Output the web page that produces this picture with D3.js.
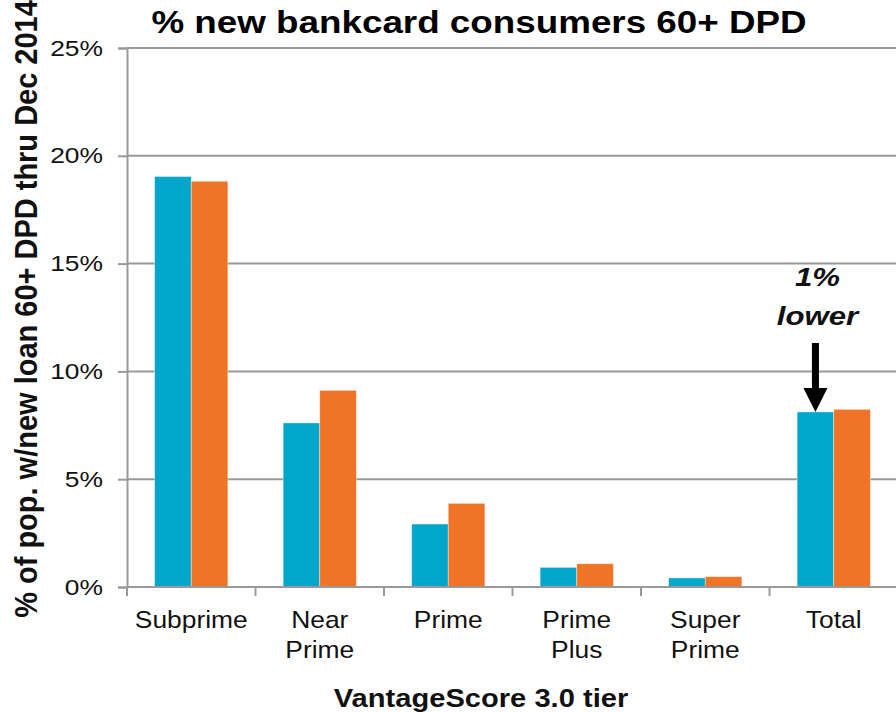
<!DOCTYPE html>
<html>
<head>
<meta charset="utf-8">
<script src="https://cdn.jsdelivr.net/npm/d3@7"></script>
<style>
  html, body { margin: 0; padding: 0; background: #fff; }
  svg { display: block; font-family: "Liberation Sans", Arial, sans-serif; }
</style>
</head>
<body>
<svg id="chart" width="896" height="713"></svg>
<script>
// VantageScore 3.0 tiers (multi-line labels split on "\n")
const categories = ["Subprime", "Near\nPrime", "Prime", "Prime\nPlus", "Super\nPrime", "Total"];
// Share of new bankcard consumers 60+ DPD, two cohorts (percent)
const seriesA = [19.04, 7.61, 2.92, 0.91, 0.42, 8.12];
const seriesB = [18.82, 9.12, 3.88, 1.08, 0.48, 8.24];
const yTicks = [0, 5, 10, 15, 20, 25];
const seriesColors = ["#01a6ca", "#f07326"];

(function drawChart() {
  const svg = d3.select("#chart");
  const plotLeft = 127, plotRight = 898, plotTop = 48, plotBottom = 587;
  const grid = "#999";

  // Text in this chart is set slightly wide; sx widens glyphs horizontally
  function wideText(x, y, sx, size, weight, str, opts = {}) {
    const t = svg.append("text")
      .attr("transform", `translate(${x},${y}) scale(${sx},1)`)
      .attr("text-anchor", opts.anchor || "middle")
      .attr("font-size", size).attr("font-weight", weight)
      .attr("fill", opts.fill || "#111")
      .text(str);
    if (opts.italic) t.attr("font-style", "italic");
    return t;
  }

  const x0 = d3.scaleBand().domain(categories).range([plotLeft, plotRight])
    .paddingInner(0.43).paddingOuter(0.215);
  const x1 = d3.scaleBand().domain([0, 1]).range([0, x0.bandwidth()]);
  const y = d3.scaleLinear().domain([0, 25]).range([plotBottom, plotTop]);

  // Horizontal gridlines
  svg.append("g").selectAll("line").data(yTicks.filter(d => d > 0)).join("line")
    .attr("x1", plotLeft).attr("x2", 896)
    .attr("y1", d => y(d)).attr("y2", d => y(d))
    .attr("stroke", grid).attr("stroke-width", 2);

  // Bars
  const groups = svg.append("g").selectAll("g").data(categories).join("g")
    .attr("transform", d => `translate(${x0(d)},0)`);
  [seriesA, seriesB].forEach((vals, s) => {
    groups.append("rect")
      .attr("x", x1(s))
      .attr("width", x1.bandwidth())
      .attr("y", (d, i) => y(vals[i]))
      .attr("height", (d, i) => y(0) - y(vals[i]))
      .attr("fill", seriesColors[s])
      .attr("stroke", "#fff").attr("stroke-opacity", 0.5).attr("stroke-width", 0.8);
  });

  // Y axis
  const tickSx = 1.2;
  const yAxis = svg.append("g").attr("transform", `translate(${plotLeft},0)`)
    .call(d3.axisLeft(y).tickValues(yTicks).tickFormat(d => d + "%").tickSize(9));
  yAxis.select(".domain").attr("stroke", grid).attr("stroke-width", 2);
  yAxis.selectAll(".tick line").attr("stroke", grid).attr("stroke-width", 2);
  yAxis.selectAll(".tick text")
    .attr("font-size", 22).attr("fill", "#111")
    .attr("font-family", "Liberation Sans, Arial, sans-serif")
    .attr("x", -24 / tickSx)
    .attr("transform", `scale(${tickSx},1)`);

  // X axis with category boundary ticks
  const xAxisG = svg.append("g").attr("transform", `translate(0,${plotBottom})`);
  xAxisG.append("line").attr("x1", plotLeft).attr("x2", 896).attr("y1", 0).attr("y2", 0)
    .attr("stroke", grid).attr("stroke-width", 2);
  const step = x0.step();
  const bounds = d3.range(categories.length).map(i => plotLeft + i * step);
  xAxisG.selectAll("line.b").data(bounds).join("line").attr("class", "b")
    .attr("x1", d => d).attr("x2", d => d).attr("y1", 0).attr("y2", 9)
    .attr("stroke", grid).attr("stroke-width", 2);
  xAxisG.selectAll("text").data(categories).join("text")
    .attr("transform", d => `translate(${x0(d) + x0.bandwidth() / 2},41) scale(1.1,1)`)
    .attr("text-anchor", "middle")
    .attr("font-size", 24).attr("fill", "#111")
    .each(function(d) {
      const t = d3.select(this);
      d.split("\n").forEach((line, i) => {
        t.append("tspan").attr("x", 0).attr("dy", i === 0 ? 0 : 30).text(line);
      });
    });

  // Titles
  wideText(479, 33, 1.15, 32, "bold", "% new bankcard consumers 60+ DPD", { fill: "#000" });
  wideText(481, 707, 1.12, 26, "bold", "VantageScore 3.0 tier");
  svg.append("text")
    .attr("transform", "translate(37,309) rotate(-90) scale(1,1.07)")
    .attr("text-anchor", "middle")
    .attr("font-size", 29).attr("font-weight", "bold").attr("fill", "#111")
    .text("% of pop. w/new loan 60+ DPD thru Dec 2014");

  // Annotation over the Total bars
  const totalIdx = categories.length - 1;
  const ax = x0(categories[totalIdx]) + x1(0) + x1.bandwidth() / 2;
  const tipY = y(seriesA[totalIdx]);
  wideText(ax + 2, 286, 1.2, 26, "bold", "1%", { italic: true });
  wideText(ax + 2, 325, 1.2, 26, "bold", "lower", { italic: true });
  svg.append("rect").attr("x", ax - 3.5).attr("y", 343).attr("width", 7).attr("height", tipY - 343 - 22)
    .attr("fill", "#000");
  svg.append("path")
    .attr("d", `M${ax - 12},${tipY - 24} L${ax + 12},${tipY - 24} L${ax},${tipY} Z`)
    .attr("fill", "#000");
})();
</script>
</body>
</html>
